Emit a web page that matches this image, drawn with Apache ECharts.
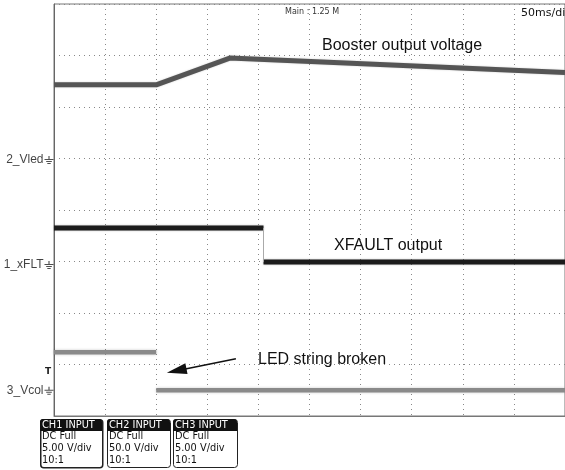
<!DOCTYPE html>
<html>
<head>
<meta charset="utf-8">
<script src="https://cdn.jsdelivr.net/npm/echarts@6/dist/echarts.min.js"></script>
<style>
html,body{margin:0;padding:0;background:#fff;}
#c{width:565px;height:470px;}
</style>
</head>
<body>
<div id="c"></div>
<script>
// ---- data (time in ms, amplitude in divisions) ----
const boosterT = [0, 100, 172, 500];
const boosterV = [2.43, 2.43, 2.95, 2.67];
const xfltT = [0, 205, 205, 500];
const xfltV = [-0.35, -0.35, -1.01, -1.01];
const vcolT = [0, 100, 100, 500];
const vcolV = [-2.76, -2.76, -3.50, -3.50];
const groundNames = ['2_Vled', '1_xFLT', '3_Vcol'];
const groundLevels = [0.97, -1.07, -3.51];
const arrowFrom = [178, -2.89];
const arrowTo = [120, -3.12];
const channelTitles = ['CH1 INPUT', 'CH2 INPUT', 'CH3 INPUT'];
const channelLines = [
  ['DC Full', '5.00 V/div', '10:1'],
  ['DC Full', '50.0 V/div', '10:1'],
  ['DC Full', '5.00 V/div', '10:1']
];

function pairs(t, v) { return t.map((x, i) => [x, v[i]]); }
function stepWithBreak(t, v) {
  return [[t[0], v[0]], [t[1], v[1]], [t[1], '-'], [t[2], v[2]], [t[3], v[3]]];
}

const chart = echarts.init(document.getElementById('c'), null, {renderer: 'canvas'});

const boxX = [40, 107, 173];
const boxW = [62, 63, 64];
const boxFont = '9.8px "DejaVu Sans"';
const graphics = [];
channelTitles.forEach((title, i) => {
  const x = boxX[i], w = boxW[i];
  graphics.push({
    type: 'rect', left: x, top: 419,
    shape: {width: w, height: 48, r: 3},
    style: {fill: '#fff', stroke: '#222', lineWidth: i === 0 ? 1.5 : 1}
  });
  graphics.push({
    type: 'rect', left: x, top: 419,
    shape: {width: w, height: 12, r: [3, 3, 0, 0]},
    style: {fill: '#111'}
  });
  graphics.push({
    type: 'text', left: x + 2, top: 420,
    style: {text: title, fill: '#fff', font: boxFont}
  });
  channelLines[i].forEach((ln, j) => {
    graphics.push({
      type: 'text', left: x + 2, top: 431 + j * 12,
      style: {text: ln, fill: '#111', font: boxFont}
    });
  });
});
graphics.push(
  {type: 'text', left: 322, top: 38, style: {text: 'Booster output voltage', fill: '#111', font: '16px "Liberation Sans"'}},
  {type: 'text', left: 334, top: 238, style: {text: 'XFAULT output', fill: '#111', font: '16px "Liberation Sans"'}},
  {type: 'text', left: 258, top: 352, style: {text: 'LED string broken', fill: '#111', font: '16px "Liberation Sans"'}},
  {type: 'text', left: 285, top: 8, style: {text: 'Main : 1.25 M', fill: '#333', font: '8px "DejaVu Sans"'}},
  {type: 'text', left: 521, top: 8, style: {text: '50ms/div', fill: '#111', font: '11px "DejaVu Sans"'}},
  {type: 'text', left: 45, top: 367, style: {text: 'T', fill: '#222', font: 'bold 9px "DejaVu Sans"'}}
);

const lineCommon = {
  type: 'line', showSymbol: false, symbol: 'none', silent: true,
  animation: false, connectNulls: false
};

chart.setOption({
  animation: false,
  grid: {left: 54, top: 4, width: 515, height: 412, show: true, borderColor: '#777', borderWidth: 1, backgroundColor: '#fff'},
  xAxis: {
    type: 'value', min: 0, max: 500, interval: 50,
    axisLabel: {show: false}, axisTick: {show: false},
    axisLine: {show: true, onZero: false, lineStyle: {color: '#777'}},
    splitLine: {show: true, lineStyle: {color: '#888', type: [1, 4], width: 1}}
  },
  yAxis: {
    type: 'value', min: -4, max: 4, interval: 1,
    axisLabel: {show: false}, axisTick: {show: false},
    axisLine: {show: true, onZero: false, lineStyle: {color: '#666'}},
    splitLine: {show: true, lineStyle: {color: '#888', type: [1, 4], width: 1}}
  },
  graphic: graphics,
  series: [
    Object.assign({}, lineCommon, {
      name: 'Booster', data: pairs(boosterT, boosterV),
      lineStyle: {color: '#555', width: 5, shadowColor: 'rgba(0,0,0,0.2)', shadowBlur: 2}
    }),
    Object.assign({}, lineCommon, {
      name: 'xFLT', data: stepWithBreak(xfltT, xfltV),
      lineStyle: {color: '#1c1c1c', width: 5, shadowColor: 'rgba(0,0,0,0.3)', shadowBlur: 2}
    }),
    Object.assign({}, lineCommon, {
      name: 'xFLTedge', data: [[xfltT[1], xfltV[1]], [xfltT[2], xfltV[2]]],
      lineStyle: {color: '#aaa', width: 1}
    }),
    Object.assign({}, lineCommon, {
      name: 'Vcol', data: stepWithBreak(vcolT, vcolV),
      lineStyle: {color: '#8a8a8a', width: 4.5, shadowColor: 'rgba(0,0,0,0.2)', shadowBlur: 3},
      markLine: {
        silent: true, animation: false,
        symbol: ['none', 'triangle'], symbolSize: [11, 20],
        label: {show: false},
        lineStyle: {color: '#111', width: 1.5, type: 'solid'},
        emphasis: {disabled: true},
        data: [[{coord: arrowFrom}, {coord: arrowTo}]]
      }
    }),
    {
      type: 'scatter', name: 'grounds', silent: true, clip: false, animation: false,
      data: groundLevels.map((v, i) => ({value: [0, v], name: groundNames[i]})),
      symbol: 'path://M3.5,0h1v3h-1zM0,3h8v1h-8zM1.5,5h5v1h-5zM2.5,7h3v1h-3z',
      symbolSize: [9, 8], symbolOffset: [-5, 0],
      itemStyle: {color: '#222'},
      label: {
        show: true, position: 'left', distance: 1,
        formatter: p => p.name, color: '#111',
        fontFamily: 'Liberation Sans', fontSize: 12
      }
    }
  ]
});
</script>
</body>
</html>
